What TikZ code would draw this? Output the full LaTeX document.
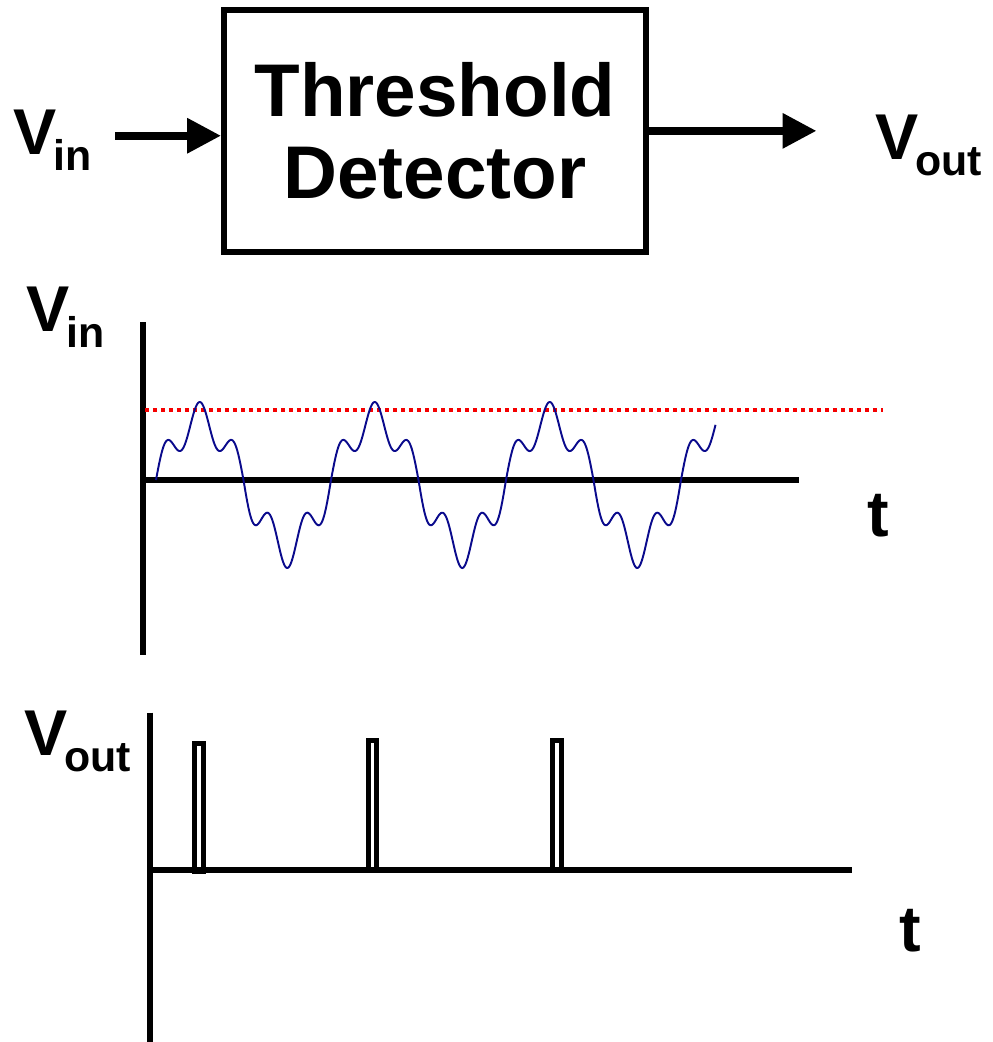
\documentclass[tikz,border=0pt]{standalone}
\usepackage{fontspec}
\setmainfont{Liberation Sans}
\usepackage{tikz}
\usetikzlibrary{arrows.meta}
\definecolor{wavenavy}{RGB}{10,10,140}
\definecolor{threshred}{RGB}{245,0,0}
\newcommand{\vsig}[1]{V\kern-0.06cm\raisebox{-0.32cm}{\fontsize{24.4pt}{28pt}\selectfont #1}}

\begin{document}
\begin{tikzpicture}[
    x=0.02cm, y=-0.02cm,
    every node/.style={font=\bfseries},
    sigtext/.style={inner sep=0pt, anchor=base west, font=\fontsize{36.85pt}{40pt}\selectfont\bfseries},
    detector/.style={rectangle, draw, line width=3.4pt, minimum width=8.44cm, minimum height=4.83cm, align=center, font=\fontsize{42.5pt}{46.3pt}\selectfont\bfseries},
    arrow/.style={-{Triangle[length=0.68cm, width=0.67cm]}, line width=4.5pt},
    axis/.style={line width=3.4pt},
    threshold/.style={threshred, line width=2.27pt, dash pattern=on 0.08cm off 0.08cm},
    wave/.style={wavenavy, line width=1.1pt},
    pulse/.style={line width=2.83pt},
]
\useasboundingbox (0,0) rectangle (992,1042);

% block diagram
\node[detector] (detector) at (435,130.85) {Threshold\\Detector};
\node[sigtext] (vin) at (13,154) {\vsig{in}};
\node[sigtext] (vout) at (875,159.3) {\vsig{out}};

\draw[arrow, transform canvas={yshift=0.08cm}, shorten <=0.47cm] (vin.east) -- (vin.east -| detector.west);
\draw[arrow, shorten >=1.17cm] (detector.east) -- (detector.east -| vout.west);

% input signal
\node[sigtext] (vinplot) at (26,331) {\vsig{in}};
\node[sigtext] (tin) at (867,536.7) {t};
\draw[axis] (143,322) -- (143,655);
\draw[axis] (143,480) -- (799,480);
\draw[threshold] (145,410) -- (883,410);
\draw[wave] plot[variable=\t, domain=0:1151, samples=600]
    ({156+\t/360*175}, {480-(sin(\t)+0.3*sin(5*\t))*((sin(\t)>0)*60+(sin(\t)<=0)*67.7)});

% output pulses
\node[sigtext] (voutplot) at (24,755) {\vsig{out}};
\node[sigtext] (tout) at (899,951.7) {t};
\draw[axis] (149.7,712.7) -- (149.7,1042);
\draw[axis] (149.7,869.7) -- (851.7,869.7);
\foreach \xa/\xb/\ya/\yb in {194.2/203.5/743.2/871.5, 368.2/376.8/740.8/869.7, 552.5/561.5/740.8/869.7}
    \draw[pulse] (\xa,\ya) rectangle (\xb,\yb);

\end{tikzpicture}
\end{document}
